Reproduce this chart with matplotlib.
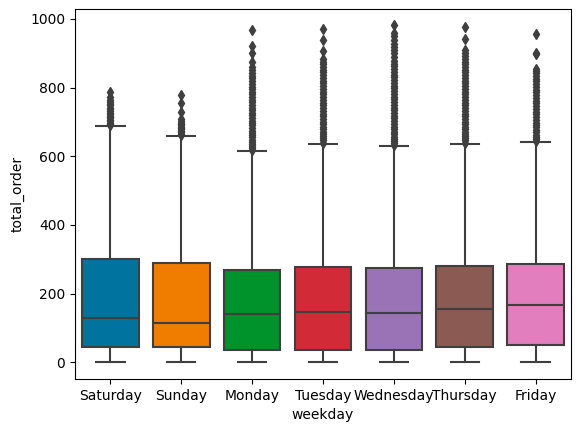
import matplotlib
matplotlib.use("Agg")
import matplotlib.pyplot as plt

days = ["Saturday", "Sunday", "Monday", "Tuesday", "Wednesday", "Thursday", "Friday"]
q1 = [43, 43, 36, 36, 36, 43, 49]
med = [129, 115, 140, 145, 142, 155, 166]
q3 = [300, 289, 268, 276, 273, 279, 285]
whislo = [0, 0, 0, 0, 0, 0, 0]
whishi = [687, 658, 615, 636, 629, 636, 641]
colors = ["#00739f", "#f07c00", "#00922b", "#d22b37", "#9a72b6", "#8b5a52", "#e27ebe"]

fliers_sat = [690, 694, 698, 702, 706, 710, 714, 718, 722, 727, 732, 737, 742, 748, 752, 758, 763, 774, 786]
fliers_sun = [662, 666, 670, 674, 678, 682, 686, 690, 694, 698, 703, 709, 728, 754, 778]
fliers_mon = [618, 624, 630, 636, 642, 648, 655, 662, 668, 675, 682, 690, 697, 704, 712, 720, 727, 735,
              742, 750, 758, 765, 773, 780, 788, 795, 803, 811, 819, 827, 835, 843, 851, 859, 874, 900,
              922, 968]
fliers_tue = [640, 646, 652, 658, 665, 672, 679, 686, 693, 700, 708, 716, 724, 732, 740, 748, 756, 764,
              772, 780, 788, 796, 804, 812, 820, 828, 836, 844, 852, 860, 868, 876, 883, 908, 939, 970]
fliers_wed = [632, 638, 644, 650, 657, 664, 671, 678, 686, 694, 702, 710, 718, 726, 734, 742, 750, 758,
              766, 774, 782, 790, 798, 806, 814, 822, 830, 838, 846, 854, 862, 870, 878, 888, 900, 910,
              917, 928, 940, 951, 960, 982]
fliers_thu = [640, 646, 652, 658, 665, 672, 679, 686, 693, 700, 708, 716, 724, 732, 740, 748, 756, 764,
              772, 780, 788, 796, 804, 812, 820, 828, 836, 844, 852, 860, 868, 876, 884, 892, 900, 910,
              942, 977]
fliers_fri = [645, 651, 657, 663, 670, 677, 684, 691, 698, 706, 714, 722, 730, 738, 746, 754, 762, 770,
              778, 786, 794, 802, 810, 818, 826, 834, 842, 849, 855, 898, 901, 957]
fliers = [fliers_sat, fliers_sun, fliers_mon, fliers_tue, fliers_wed, fliers_thu, fliers_fri]

gray = "#3f3f3f"

fig = plt.figure(figsize=(5.8, 4.32), dpi=100)
ax = fig.add_axes([75 / 580, 53 / 432, 496 / 580, 370 / 432])

stats = []
for i in range(len(days)):
    stats.append(dict(label=days[i], q1=q1[i], med=med[i], q3=q3[i],
                      whislo=whislo[i], whishi=whishi[i], fliers=fliers[i]))

positions = list(range(len(days)))
res = ax.bxp(stats, positions=positions, widths=0.8, capwidths=0.4, patch_artist=True,
             boxprops=dict(edgecolor=gray, linewidth=1.5),
             medianprops=dict(color=gray, linewidth=1.5),
             whiskerprops=dict(color=gray, linewidth=1.5),
             capprops=dict(color=gray, linewidth=1.5),
             flierprops=dict(marker="d", markerfacecolor=gray, markeredgecolor=gray,
                             markersize=5, linestyle="none"))
for patch, c in zip(res["boxes"], colors):
    patch.set_facecolor(c)

ax.set_xlim(-0.5, len(days) - 0.5)
ax.set_ylim(-49, 1029)
ax.set_xticks(positions)
ax.set_xticklabels(days)
ax.set_yticks([0, 200, 400, 600, 800, 1000])
ax.set_xlabel("weekday")
ax.set_ylabel("total_order")

fig.savefig("out.png", dpi=100)
